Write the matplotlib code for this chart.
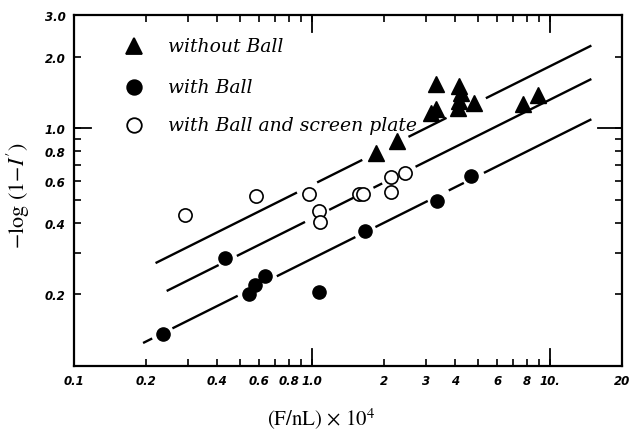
"""
Recreate the log-log chart of -log(1-I') against (F/nL) x 10^4
"""

import numpy as np
import matplotlib
matplotlib.use('Agg')
import matplotlib.pyplot as plt
from matplotlib.ticker import FixedLocator, NullLocator

# without Ball (filled triangles)
tri_x = [1.86, 2.28, 3.15, 3.30, 3.30, 4.13, 4.21, 4.13, 4.09, 4.78, 7.67, 8.87]
tri_y = [0.786, 0.885, 1.16, 1.21, 1.53, 1.51, 1.415, 1.31, 1.22, 1.28, 1.27, 1.38]

# with Ball (filled circles)
ball_x = [0.236, 0.43, 0.544, 0.575, 0.637, 1.074, 1.673, 3.34, 4.64]
ball_y = [0.136, 0.286, 0.200, 0.220, 0.240, 0.204, 0.370, 0.496, 0.632]

# with Ball and screen plate (open circles)
plate_x = [0.293, 0.584, 0.974, 1.067, 1.084, 1.57, 1.63, 2.15, 2.15, 2.445]
plate_y = [0.432, 0.521, 0.530, 0.451, 0.405, 0.530, 0.527, 0.622, 0.542, 0.646]

# fitted lines y = a * x**0.5, drawn in pieces (broken where points sit)
fit_slope = 0.5
fit_a = [0.578, 0.418, 0.283]
fit_pieces = [
    [(0.220, 0.864), (1.05, 1.625), (2.54, 3.67), (5.37, 14.9)],
    [(0.245, 0.405), (0.483, 0.934), (1.18, 1.49), (1.81, 1.97), (2.72, 14.9)],
    [(0.195, 0.213), (0.259, 0.487), (0.711, 1.52), (1.845, 3.06),
     (3.75, 4.34), (5.27, 14.9)],
]

x_ticks = [0.1, 0.2, 0.3, 0.4, 0.5, 0.6, 0.7, 0.8, 0.9, 1.0,
           2, 3, 4, 5, 6, 7, 8, 9, 10, 20]
x_labels = {0.1: '0.1', 0.2: '0.2', 0.4: '0.4', 0.6: '0.6', 0.8: '0.8',
            1.0: '1.0', 2: '2', 3: '3', 4: '4', 6: '6', 8: '8',
            10: '10.', 20: '20'}
y_ticks = [0.2, 0.3, 0.4, 0.5, 0.6, 0.7, 0.8, 0.9, 1.0, 2.0, 3.0]
y_labels = {0.2: '0.2', 0.4: '0.4', 0.6: '0.6', 0.8: '0.8',
            1.0: '1.0', 2.0: '2.0', 3.0: '3.0'}

legend_text = ['without Ball', 'with Ball', 'with Ball and screen plate']

plt.rcParams['mathtext.fontset'] = 'stix'

fig = plt.figure(figsize=(6.3, 4.35), dpi=100)
ax = fig.add_axes([0.1175, 0.1563, 0.8695, 0.8069])
ax.set_xscale('log')
ax.set_yscale('log')
ax.set_xlim(0.1, 20)
ax.set_ylim(0.1, 3.0)

# 直线（分段）
for a, pieces in zip(fit_a, fit_pieces):
    for x0, x1 in pieces:
        xs = np.array([x0, x1])
        ax.plot(xs, a * xs ** fit_slope, color='black', lw=1.7,
                solid_capstyle='butt', zorder=2)

# 数据点
ax.plot(tri_x, tri_y, '^', color='black', ms=11, zorder=3)
ax.plot(ball_x, ball_y, 'o', color='black', ms=9.5, zorder=3)
ax.plot(plate_x, plate_y, 'o', mfc='white', mec='black', mew=1.2,
        ms=9.5, zorder=3)

# legend written inside the axes
hand = dict(family='DejaVu Serif', style='italic', fontsize=13.5, va='center')
leg_marks = [('^', 'black', 11), ('o', 'black', 10.5), ('o', 'white', 10.5)]
leg_rows = [0.912, 0.795, 0.687]
for (mk, fc, ms), txt, yy in zip(leg_marks, legend_text, leg_rows):
    ax.plot([0.109], [yy], mk, mfc=fc, mec='black', mew=1.3, ms=ms,
            transform=ax.transAxes, clip_on=False)
    ax.text(0.172, yy, txt, transform=ax.transAxes, **hand)

# ticks
tick_font = dict(family='DejaVu Sans', style='italic', weight='bold', size=8.5)
ax.xaxis.set_major_locator(FixedLocator(x_ticks))
ax.xaxis.set_minor_locator(NullLocator())
ax.set_xticklabels([x_labels.get(t, '') for t in x_ticks], **tick_font)
ax.yaxis.set_major_locator(FixedLocator(y_ticks))
ax.yaxis.set_minor_locator(NullLocator())
ax.set_yticklabels([y_labels.get(t, '') for t in y_ticks], **tick_font)
ax.tick_params(which='major', direction='in', length=5, width=1.2,
               top=True, right=True, pad=6, colors='black')

# long ticks at the decades
for xv in [1.0, 10.0]:
    ax.plot([xv, xv], [0.1, 0.1 * 10 ** 0.07], color='black', lw=1.3,
            clip_on=False, zorder=4)
    ax.plot([xv, xv], [3.0, 3.0 / 10 ** 0.07], color='black', lw=1.3,
            clip_on=False, zorder=4)
ax.plot([0.1, 0.1 * 10 ** 0.07], [1.0, 1.0], color='black', lw=1.3, zorder=4)
ax.plot([20, 20 / 10 ** 0.1], [1.0, 1.0], color='black', lw=1.3, zorder=4)

for side in ax.spines.values():
    side.set_linewidth(1.6)

fig.text(0.03, 0.55, r'$-$log (1$-$$I^{\prime}$)', rotation=90,
         family='STIXGeneral', fontsize=16, ha='center', va='center')
fig.text(0.51, 0.035, r'(F/nL) $\times$ 10$^{4}$', family='STIXGeneral',
         fontsize=15, ha='center', va='center')

fig.savefig('out.png', dpi=100)
